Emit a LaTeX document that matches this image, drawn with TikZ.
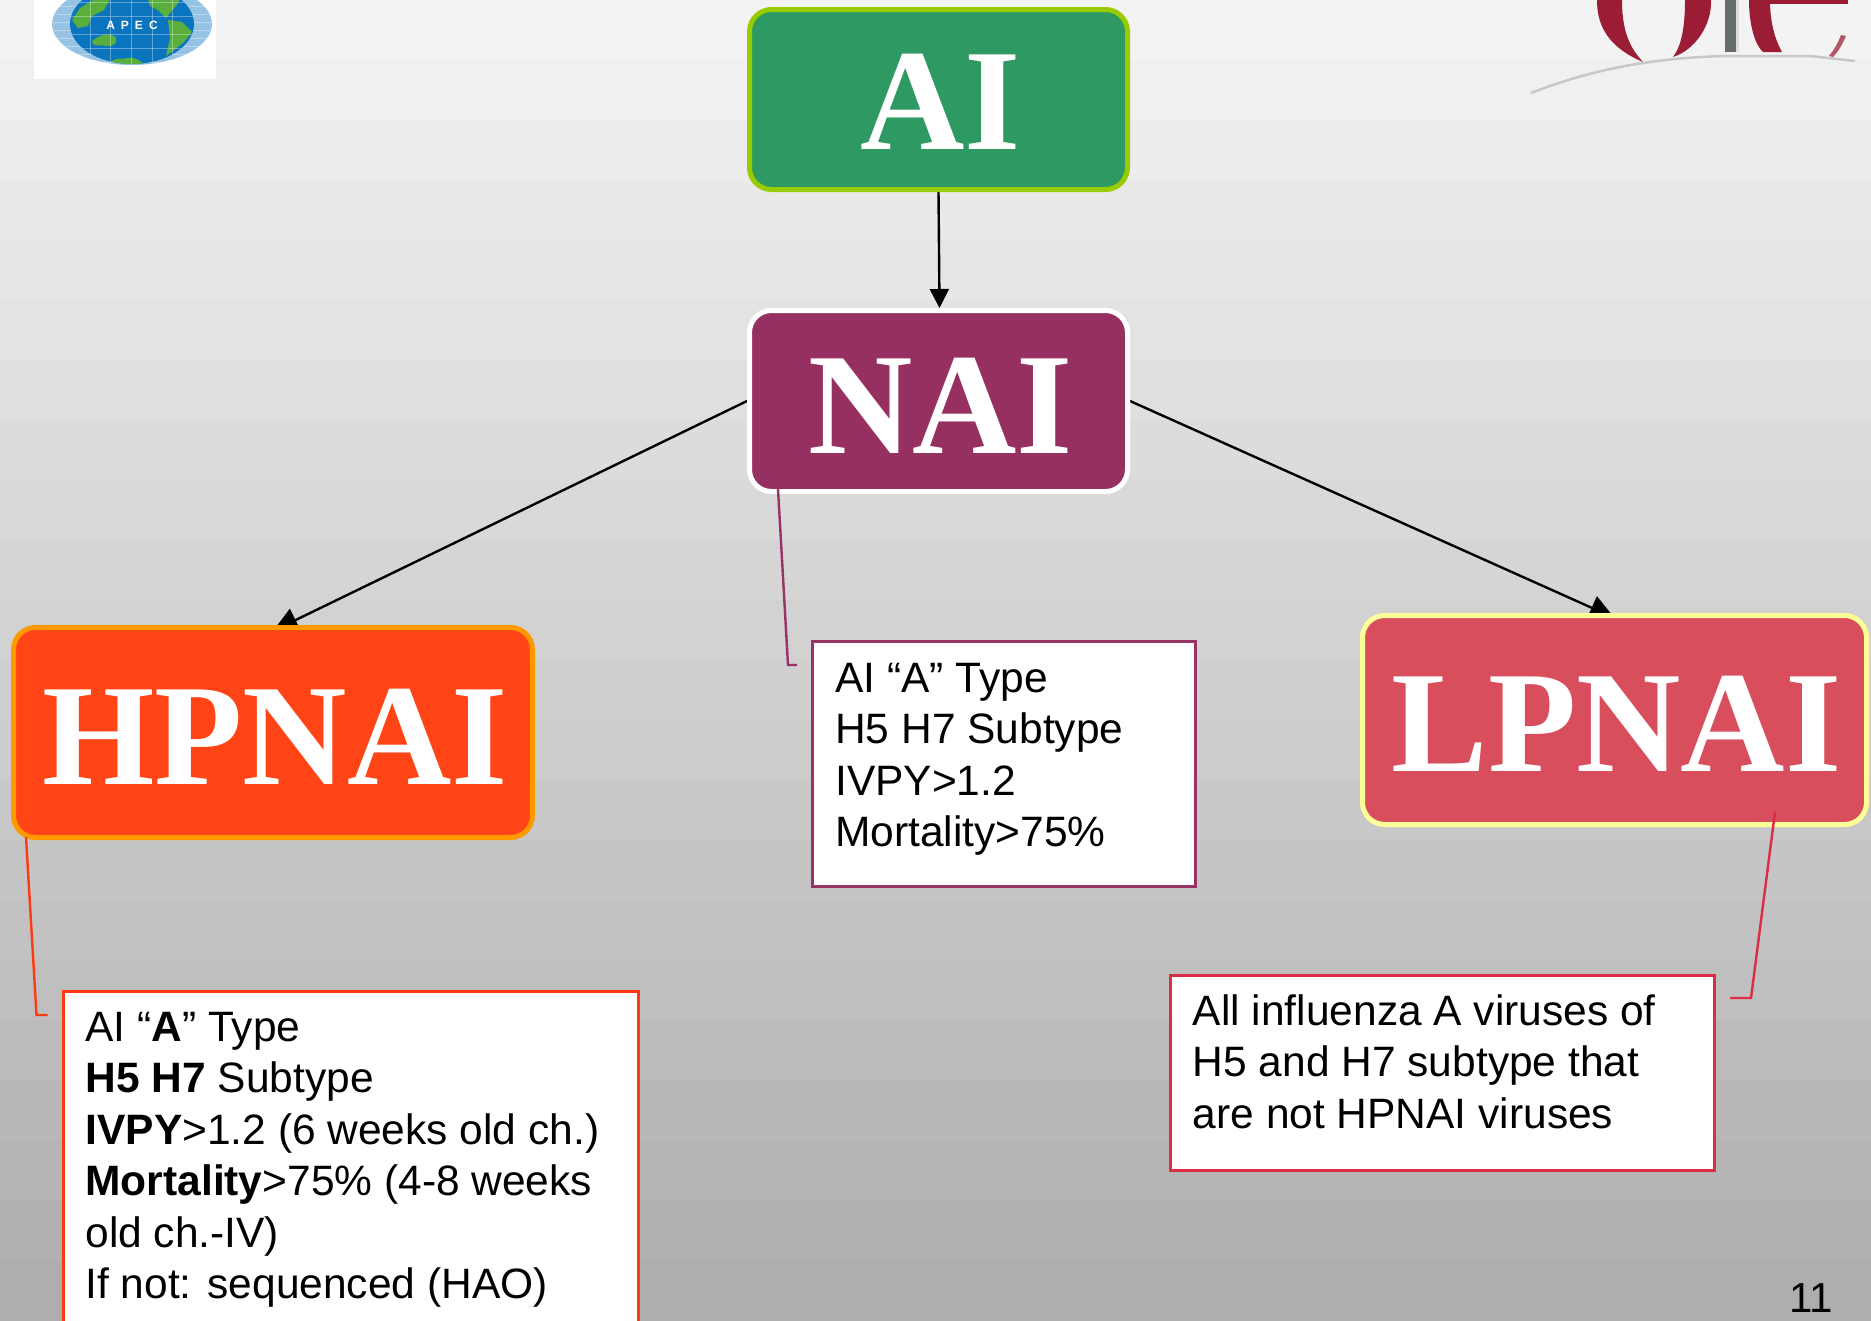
\documentclass[tikz,border=0pt]{standalone}
\usepackage{fontspec}
\setmainfont{Liberation Sans}
\newfontfamily\titlefont{Liberation Serif}
\usetikzlibrary{arrows.meta}
\pgfdeclarelayer{backdrop}
\pgfdeclarelayer{links}
\pgfsetlayers{backdrop,links,main}
\definecolor{landgreen}{HTML}{5AAE3C}
\definecolor{globeblue}{HTML}{0B74BE}
\definecolor{oiered}{HTML}{9B1C35}
\newcommand{\calltxt}[5]{\hspace*{#1pt}\parbox[c][#3pt][t]{#2pt}{\fontsize{42.5}{51.5}\selectfont\raggedright\rule{0pt}{#4pt}#5}}
\newcommand{\ttl}[1]{\hspace*{4pt}#1}
\tikzset{
  titlebox/.style={rounded corners=22pt,line width=5pt,inner sep=0pt,text=white,
    font=\titlefont\bfseries\fontsize{144.5}{144.5}\selectfont,text depth=0pt},
  callbox/.style={draw,fill=white,line width=3pt,inner sep=0pt,anchor=north west,text=black},
  flow/.style={line width=2.4pt,-{Triangle[length=19pt,width=19pt]}},
  flowbig/.style={line width=2.4pt,-{Triangle[length=25pt,width=25pt]}},
  leader/.style={line width=2.4pt},
}
\begin{document}
\begin{tikzpicture}[x=1pt,y=-1pt]
\useasboundingbox (0,0) rectangle (1871,1320);
\begin{pgfonlayer}{backdrop}
  \foreach \i in {0,...,21}{
    \pgfmathtruncatemacro{\g}{245-72*(\i+0.5)/22}
    \definecolor{bandcol}{RGB}{\g,\g,\g}
    \fill[bandcol] (0,{\i*60}) rectangle (1871,{(\i+1)*60+1});
  }
  % APEC logo
  \fill[white] (34,0) rectangle (216,79);
  \begin{scope}
    \clip (0,0) rectangle (216,79);
    \fill[color={rgb,255:red,150;green,195;blue,228}] (132,24) ellipse [x radius=80,y radius=41];
    \foreach \yy in {-10,-2,6,14,22,30,38,46,54,62}{\draw[white,line width=1pt,opacity=.35] (50,\yy) -- (214,\yy);}
    \fill[globeblue] (132,24) ellipse [x radius=62,y radius=40];
    \begin{scope}
      \clip (132,24) ellipse [x radius=62,y radius=40];
      \fill[landgreen] (72,20) -- (80,8) -- (100,-4) -- (112,-4) -- (104,10) -- (92,16) -- (88,26) -- (78,28) -- cycle;
      \fill[landgreen] (92,42) .. controls (98,34) and (112,32) .. (116,38) .. controls (118,44) and (112,47) .. (106,46) .. controls (100,44) and (94,48) .. (92,42) -- cycle;
      \fill[landgreen] (147,-4) -- (182,-4) -- (176,6) -- (166,18) -- (158,10) -- (150,6) -- cycle;
      \fill[landgreen] (168,20) -- (182,22) -- (192,32) -- (184,42) -- (174,50) -- (166,56) -- (170,38) -- cycle;
      \fill[landgreen] (108,64) .. controls (116,56) and (124,60) .. (128,58) .. controls (134,56) and (142,62) .. (146,66) -- cycle;
      \foreach \xx in {90,110,131,152,172}{\draw[white,line width=.8pt,opacity=.35] (\xx,-16) -- (\xx,65);}
      \foreach \yy in {2,16,34,48}{\draw[white,line width=.8pt,opacity=.35] (68,\yy) -- (196,\yy);}
    \end{scope}
    \node[inner sep=0pt,text=white,font=\bfseries\fontsize{12}{12}\selectfont] (apectxt) at (132,25) {A\,\,\,P\,\,\,E\,\,\,C};
  \end{scope}
  % OIE logo (cropped by the page top)
  \fill[oiered] (1597,0) .. controls (1597,20) and (1603,45) .. (1643,62) .. controls (1632,50) and (1622,35) .. (1622,0) -- cycle;
  \fill[oiered] (1711,0) .. controls (1712,25) and (1695,50) .. (1673,57) .. controls (1682,45) and (1685,25) .. (1685,0) -- cycle;
  \fill[color={rgb,255:red,102;green,107;blue,110}] (1725,0) rectangle (1736,52);
  \fill[color={rgb,255:red,222;green,222;blue,222}] (1736,0) rectangle (1739,52);
  \fill[oiered] (1749,0) .. controls (1749,25) and (1755,45) .. (1763,52) -- (1782,52) .. controls (1774,38) and (1770,20) .. (1770,0) -- cycle;
  \fill[oiered] (1770,0) rectangle (1848,3.5);
  \fill[oiered!75!white] (1841,35) -- (1846,36) .. controls (1842,45) and (1838,52) .. (1833,57) -- (1829,56) .. controls (1834,50) and (1838,43) .. (1841,35) -- cycle;
  \draw[color={rgb,255:red,200;green,200;blue,200},line width=2.5pt] (1531,93) .. controls (1590,70) and (1650,58) .. (1725,56) -- (1810,56) -- (1855,61);
\end{pgfonlayer}

\begin{scope}
\clip (0,0) rectangle (1871,1320);
\node[titlebox,draw={rgb,255:red,153;green,204;blue,0},fill={rgb,255:red,46;green,153;blue,99},
  minimum width=378pt,minimum height=180pt,text height=99pt] (AI) at (938.5,99.5) {\ttl{AI}};
\node[titlebox,draw=white,fill={rgb,255:red,150;green,48;blue,96},
  minimum width=378pt,minimum height=181pt,text height=105pt] (NAI) at (938.5,401) {\ttl{NAI}};
\node[titlebox,draw={rgb,255:red,255;green,153;blue,0},fill={rgb,255:red,255;green,69;blue,21},
  minimum width=519pt,minimum height=210pt,text height=103pt] (HPNAI) at (273,732.5) {\ttl{HPNAI}};
\node[titlebox,draw={rgb,255:red,255;green,255;blue,153},fill={rgb,255:red,216;green,78;blue,93},
  minimum width=504pt,minimum height=209pt,text height=102pt] (LPNAI) at (1614.5,720) {\ttl{LPNAI}};

\node[callbox,draw={rgb,255:red,153;green,51;blue,102}] (NAInote) at (811.3,640)
  {\calltxt{22.5}{360}{244.5}{50.5}{AI “A” Type\\H5 H7 Subtype\\IVPY>1.2\\Mortality>75\%}};
\node[callbox,draw={rgb,255:red,255;green,58;blue,18}] (HPnote) at (62,989.5)
  {\calltxt{22}{553}{347}{50}{AI “\textbf{A}” Type\\\textbf{H5 H7} Subtype\\\textbf{IVPY}>1.2 (6 weeks old ch.)\\\textbf{Mortality}>75\% (4-8 weeks\\old ch.-IV)\\If not: sequenced (HAO)}};
\node[callbox,draw={rgb,255:red,221;green,44;blue,68}] (LPnote) at (1168.8,973.5)
  {\calltxt{22.5}{522}{195}{50}{All influenza A viruses of\\H5 and H7 subtype that\\are not HPNAI viruses}};

\coordinate (na) at (778,489); \coordinate (nb) at (788,665); \coordinate (nc) at (797,665);
\coordinate (ha) at (26,837); \coordinate (hb) at (36.5,1015); \coordinate (hc) at (47.5,1015);
\coordinate (la) at (1775,812); \coordinate (lb) at (1751,998); \coordinate (lc) at (1730,998);
\draw[leader,draw={rgb,255:red,153;green,51;blue,102}] (na) -- (nb) -- (nc);
\draw[leader,draw={rgb,255:red,255;green,58;blue,18}] (ha) -- (hb) -- (hc);
\draw[leader,draw={rgb,255:red,221;green,44;blue,68}] (la) -- (lb) -- (lc);

\node[anchor=base west,inner sep=0pt,font=\fontsize{42}{42}\selectfont] (pageno) at (1789,1312) {11};
\end{scope}

\begin{pgfonlayer}{links}
  \draw[flow] (AI.south) -- ([xshift=1pt]NAI.north);
  \draw[flowbig] (NAI.west) -- ([yshift=-6pt]HPNAI.north);
  \draw[flowbig] (NAI.east) -- ([yshift=-5pt]LPNAI.north);
\end{pgfonlayer}
\end{tikzpicture}
\end{document}
